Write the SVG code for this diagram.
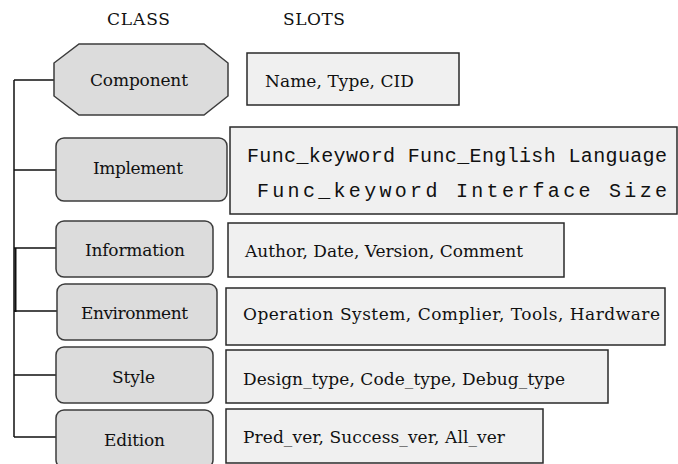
<svg xmlns="http://www.w3.org/2000/svg" width="678" height="464" viewBox="0 0 678 464">
<style>
.cls{fill:#dcdcdc;stroke:#3c3c3c;stroke-width:1.5}
.slot{fill:#f0f0f0;stroke:#2a2a2a;stroke-width:1.5}
.t{font-family:"DejaVu Serif","Liberation Serif",serif;font-size:17px;fill:#111}
.c{text-anchor:middle}
.m{font-family:"Liberation Mono","DejaVu Sans Mono",monospace;font-size:20px;fill:#111}
.ln{stroke:#111;stroke-width:1.5;fill:none}
</style>
<rect width="678" height="464" fill="#fff"/>
<text class="t" x="107" y="25" textLength="63">CLASS</text>
<text class="t" x="283" y="25" textLength="62">SLOTS</text>
<g id="connectors">
<path class="ln" d="M14 80V437M14 80H54M14 170H56M14 248H56M14 311H57M14 375H56M14 437H56"/>
<path d="M15.5 248V312" stroke="#111" stroke-width="2"/>
</g>
<g id="component">
<polygon class="cls" points="79,44 204,44 228,63 228,96 204,115 79,115 54,96 54,63"/>
<text class="t c" x="139" y="86" textLength="98">Component</text>
</g>
<g id="implement">
<rect class="cls" x="56" y="138" width="171" height="63" rx="8"/>
<text class="t c" x="138" y="174" textLength="90">Implement</text>
</g>
<g id="information">
<rect class="cls" x="56" y="221" width="157" height="56" rx="8"/>
<text class="t c" x="135" y="256" textLength="100">Information</text>
</g>
<g id="environment">
<rect class="cls" x="57" y="284" width="160" height="56" rx="8"/>
<text class="t c" x="134.5" y="319" textLength="107">Environment</text>
</g>
<g id="style">
<rect class="cls" x="56" y="347" width="157" height="56" rx="8"/>
<text class="t c" x="133.5" y="383" textLength="43">Style</text>
</g>
<g id="edition">
<rect class="cls" x="56" y="410" width="157" height="58" rx="8"/>
<text class="t c" x="134.5" y="446" textLength="61">Edition</text>
</g>
<g id="slots-component">
<rect class="slot" x="247" y="53" width="212" height="52"/>
<text class="t" x="265" y="87" textLength="149">Name, Type, CID</text>
</g>
<g id="slots-implement">
<rect class="slot" x="230" y="127" width="447" height="87"/>
<text class="m" x="247" y="162" textLength="420">Func_keyword Func_English Language</text>
<text class="m" x="257" y="197" textLength="410">Func_keyword Interface Size</text>
</g>
<g id="slots-information">
<rect class="slot" x="228" y="223" width="336" height="54"/>
<text class="t" x="245" y="257" textLength="278">Author, Date, Version, Comment</text>
</g>
<g id="slots-environment">
<rect class="slot" x="226" y="288" width="439" height="57"/>
<text class="t" x="243" y="320" textLength="417">Operation System, Complier, Tools, Hardware</text>
</g>
<g id="slots-style">
<rect class="slot" x="226" y="350" width="382" height="53"/>
<text class="t" x="243" y="385" textLength="322">Design_type, Code_type, Debug_type</text>
</g>
<g id="slots-edition">
<rect class="slot" x="226" y="409" width="317" height="54"/>
<text class="t" x="243" y="443" textLength="262">Pred_ver, Success_ver, All_ver</text>
</g>
</svg>
